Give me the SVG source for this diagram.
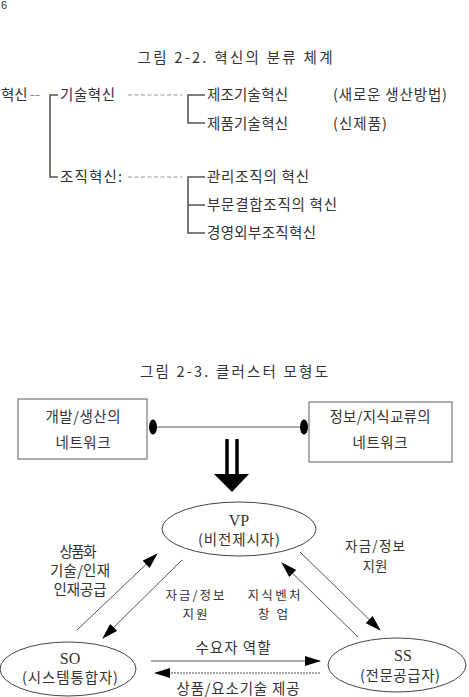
<svg xmlns="http://www.w3.org/2000/svg" width="469" height="697" viewBox="0 0 469 697">
<style>
text{font-family:"Liberation Serif","Noto Sans CJK KR",serif;fill:#333;font-size:14.5px}
.t{font-family:"Noto Sans CJK KR","Liberation Sans",sans-serif;font-size:14.5px;text-anchor:middle}
.k{font-family:"Noto Sans CJK KR",sans-serif}
.s{font-size:12.5px}
.r{font-size:13.5px}
.l{font-size:16px}
.m{text-anchor:middle}
.br{fill:none;stroke:#555;stroke-width:1.6}
.dash{fill:none;stroke:#999;stroke-width:1.2;stroke-dasharray:4 2.5}
.box{fill:#fff;stroke:#777;stroke-width:1.2}
.ell{fill:#fff;stroke:#444;stroke-width:1}
.ln{stroke:#555;stroke-width:1;fill:none}
</style>
<defs>
<marker id="ah" viewBox="0 0 16 10" refX="15" refY="5" markerWidth="16" markerHeight="10" markerUnits="userSpaceOnUse" orient="auto">
<path d="M0,0 L16,5 L0,10 Z" fill="#000"/>
</marker>
</defs>

<text x="1" y="9" style="font-family:'Liberation Sans',sans-serif;font-size:11px">6</text>

<text class="t" x="235" y="63" textLength="195">그림 2-2.  혁신의 분류 체계</text>

<g id="tree-root">
<text class="k" x="1" y="100">혁신</text>
<text class="k" x="30" y="100" style="fill:#888">--</text>
</g>
<g id="tree-connectors">
<path class="br" d="M58,95 H50 V177 H58"/>
<path class="dash" d="M128,95 H182"/>
<path class="dash" d="M128,177 H182"/>
<path class="br" d="M205,95 H188 V123 H205"/>
<path class="br" d="M205,177 H188 V233 H205 M188,205 H205"/>
</g>
<g id="tech"><text class="k" x="60" y="100" textLength="55">기술혁신</text></g>
<g id="org"><text class="k" x="60" y="182" textLength="62">조직혁신:</text></g>
<g id="t1"><text class="k" x="207" y="100" textLength="81">제조기술혁신</text><text class="k" x="333" y="100" textLength="114">(새로운 생산방법)</text></g>
<g id="t2"><text class="k" x="207" y="129" textLength="81">제품기술혁신</text><text class="k" x="333" y="129" textLength="54">(신제품)</text></g>
<g id="o1"><text class="k" x="207" y="182" textLength="102">관리조직의 혁신</text></g>
<g id="o2"><text class="k" x="207" y="210" textLength="130">부문결합조직의 혁신</text></g>
<g id="o3"><text class="k" x="207" y="238" textLength="109">경영외부조직혁신</text></g>

<text class="t" x="234" y="377" textLength="188">그림 2-3.  클러스터 모형도</text>

<g id="box-left">
<rect class="box" x="18" y="399" width="129" height="60"/>
<text class="k m" x="83" y="422" textLength="75">개발/생산의</text>
<text class="k m" x="83" y="448" textLength="55">네트워크</text>
</g>
<g id="box-right">
<rect class="box" x="309" y="402" width="143" height="60"/>
<text class="k m" x="380" y="422" textLength="101">정보/지식교류의</text>
<text class="k m" x="380" y="448" textLength="55">네트워크</text>
</g>

<g id="vp">
<ellipse class="ell" cx="239" cy="529" rx="77" ry="27"/>
<text class="m l" x="239" y="526">VP</text>
<text class="k m" x="239" y="545" textLength="82">(비전제시자)</text>
</g>
<g id="so">
<ellipse class="ell" cx="68" cy="669" rx="68" ry="27"/>
<text class="m l" x="70" y="664">SO</text>
<text class="k m" x="70" y="683" textLength="96">(시스템통합자)</text>
</g>
<g id="ss">
<ellipse class="ell" cx="397" cy="665" rx="69" ry="27"/>
<text class="m l" x="403" y="661">SS</text>
<text class="k m" x="400" y="681" textLength="80">(전문공급자)</text>
</g>

<g id="connectors">
<line class="ln" x1="153" y1="427" x2="304" y2="427"/>
<ellipse cx="153" cy="427" rx="4" ry="7.5" fill="#000"/>
<ellipse cx="304" cy="427" rx="4" ry="7.5" fill="#000"/>
<path d="M227,439 V474 M237,439 V474" stroke="#000" stroke-width="3.5" fill="none"/>
<path d="M214,474 H249 L232,492 Z" fill="#000"/>
<line class="ln" x1="77" y1="630" x2="157" y2="554" marker-end="url(#ah)"/>
<line class="ln" x1="182" y1="560" x2="103" y2="638" marker-end="url(#ah)"/>
<line class="ln" x1="300" y1="552" x2="380" y2="630" marker-end="url(#ah)"/>
<line class="ln" x1="358" y1="637" x2="282" y2="563" marker-end="url(#ah)"/>
<line class="ln" x1="151" y1="661" x2="320" y2="661" stroke="#777" stroke-width="1.5" marker-end="url(#ah)"/>
<line x1="320" y1="673" x2="155" y2="673" stroke="#888" stroke-width="1.5" stroke-dasharray="2 1" marker-end="url(#ah)"/>
</g>

<g id="labels">
<text class="k m" x="78" y="557" textLength="37">상품화</text>
<text class="k m" x="80" y="576" textLength="60">기술/인재</text>
<text class="k m" x="80" y="595" textLength="53">인재공급</text>
<text class="k m r" x="375" y="551" textLength="60">자금/정보</text>
<text class="k m r" x="375" y="571" textLength="25">지원</text>
<text class="k m s" x="195" y="600" textLength="59">자금/정보</text>
<text class="k m s" x="195" y="619" textLength="25">지원</text>
<text class="k m s" x="274" y="600" textLength="53">지식벤처</text>
<text class="k m s" x="273" y="619" textLength="30">창업</text>
<text class="k m" x="233" y="653" textLength="75">수요자 역할</text>
<text class="k m" x="238" y="694" textLength="123">상품/요소기술 제공</text>
</g>
</svg>
